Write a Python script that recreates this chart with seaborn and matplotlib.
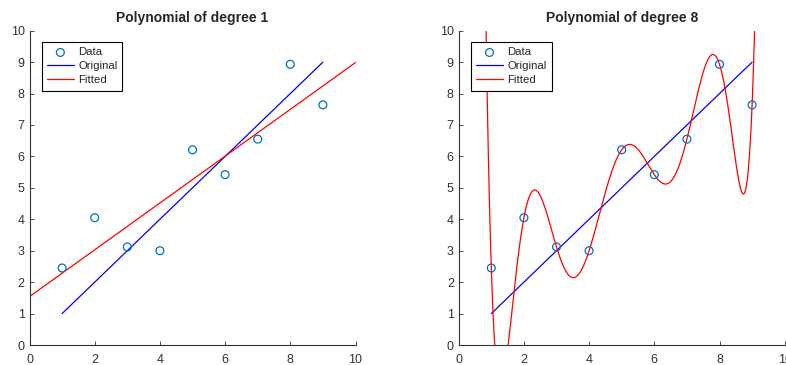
import numpy as np
import pandas as pd
import matplotlib
matplotlib.use("Agg")
import matplotlib.pyplot as plt
import seaborn as sns

# ---- data ----
x_data = [1, 2, 3, 4, 5, 6, 7, 8, 9]
y_data = [2.45, 4.05, 3.12, 3.00, 6.21, 5.42, 6.55, 8.93, 7.64]
y_original = [1, 2, 3, 4, 5, 6, 7, 8, 9]
degrees = [1, 8]
titles = ["Polynomial of degree 1", "Polynomial of degree 8"]
tick_vals_x = [0, 2, 4, 6, 8, 10]
tick_vals_y = [0, 1, 2, 3, 4, 5, 6, 7, 8, 9, 10]

sns.set_style("white")
plt.rcParams["font.family"] = ["Liberation Sans", "DejaVu Sans"]

W, H = 786, 365
fig = plt.figure(figsize=(W / 100, H / 100), dpi=100)

axes_px = [(29.5, 30.7, 326.0, 314.3), (458.7, 30.7, 326.0, 314.3)]
grey = "#333333"
data_color = (0.0, 0.447, 0.741)

for (left, top, w, h), deg, title in zip(axes_px, degrees, titles):
    ax = fig.add_axes([left / W, 1 - (top + h) / H, w / W, h / H])
    df = pd.DataFrame({"x": x_data, "y": y_data, "orig": y_original})

    poly = np.polynomial.Polynomial.fit(df["x"], df["y"], deg)
    xf = np.linspace(0, 10, 2001)
    fit_df = pd.DataFrame({"x": xf, "y": poly(xf)})

    sns.scatterplot(data=df, x="x", y="y", ax=ax, marker="o", s=32,
                    facecolor="none", edgecolor=data_color, linewidth=0.9,
                    label="Data", zorder=3)
    sns.lineplot(data=df, x="x", y="orig", ax=ax, color="blue", linewidth=0.9,
                 label="Original", estimator=None, sort=False)
    sns.lineplot(data=fit_df, x="x", y="y", ax=ax, color="red", linewidth=0.9,
                 label="Fitted", estimator=None, sort=False)

    ax.set_xlim(0, 10)
    ax.set_ylim(0, 10)
    ax.set_xticks(tick_vals_x)
    ax.set_yticks(tick_vals_y)
    ax.set_xlabel("")
    ax.set_ylabel("")
    ax.set_title(title, fontsize=10, fontweight="bold", pad=6)
    for s in ["top", "right"]:
        ax.spines[s].set_visible(False)
    for s in ["left", "bottom"]:
        ax.spines[s].set_color(grey)
        ax.spines[s].set_linewidth(0.8)
    ax.tick_params(direction="in", length=3, width=0.6, colors=grey,
                   labelsize=9, left=True, bottom=True)
    ax.tick_params(axis="x", pad=6.5)
    ax.tick_params(axis="y", pad=3.5)
    leg = ax.legend(loc="upper left", bbox_to_anchor=(0.037, 0.963),
                    borderaxespad=0, fontsize=8.2, fancybox=False,
                    edgecolor="black", framealpha=1, handlelength=2.4,
                    labelspacing=0.35, borderpad=0.45, handletextpad=0.35)
    leg.get_frame().set_linewidth(0.8)

fig.savefig("out.png", dpi=100)
